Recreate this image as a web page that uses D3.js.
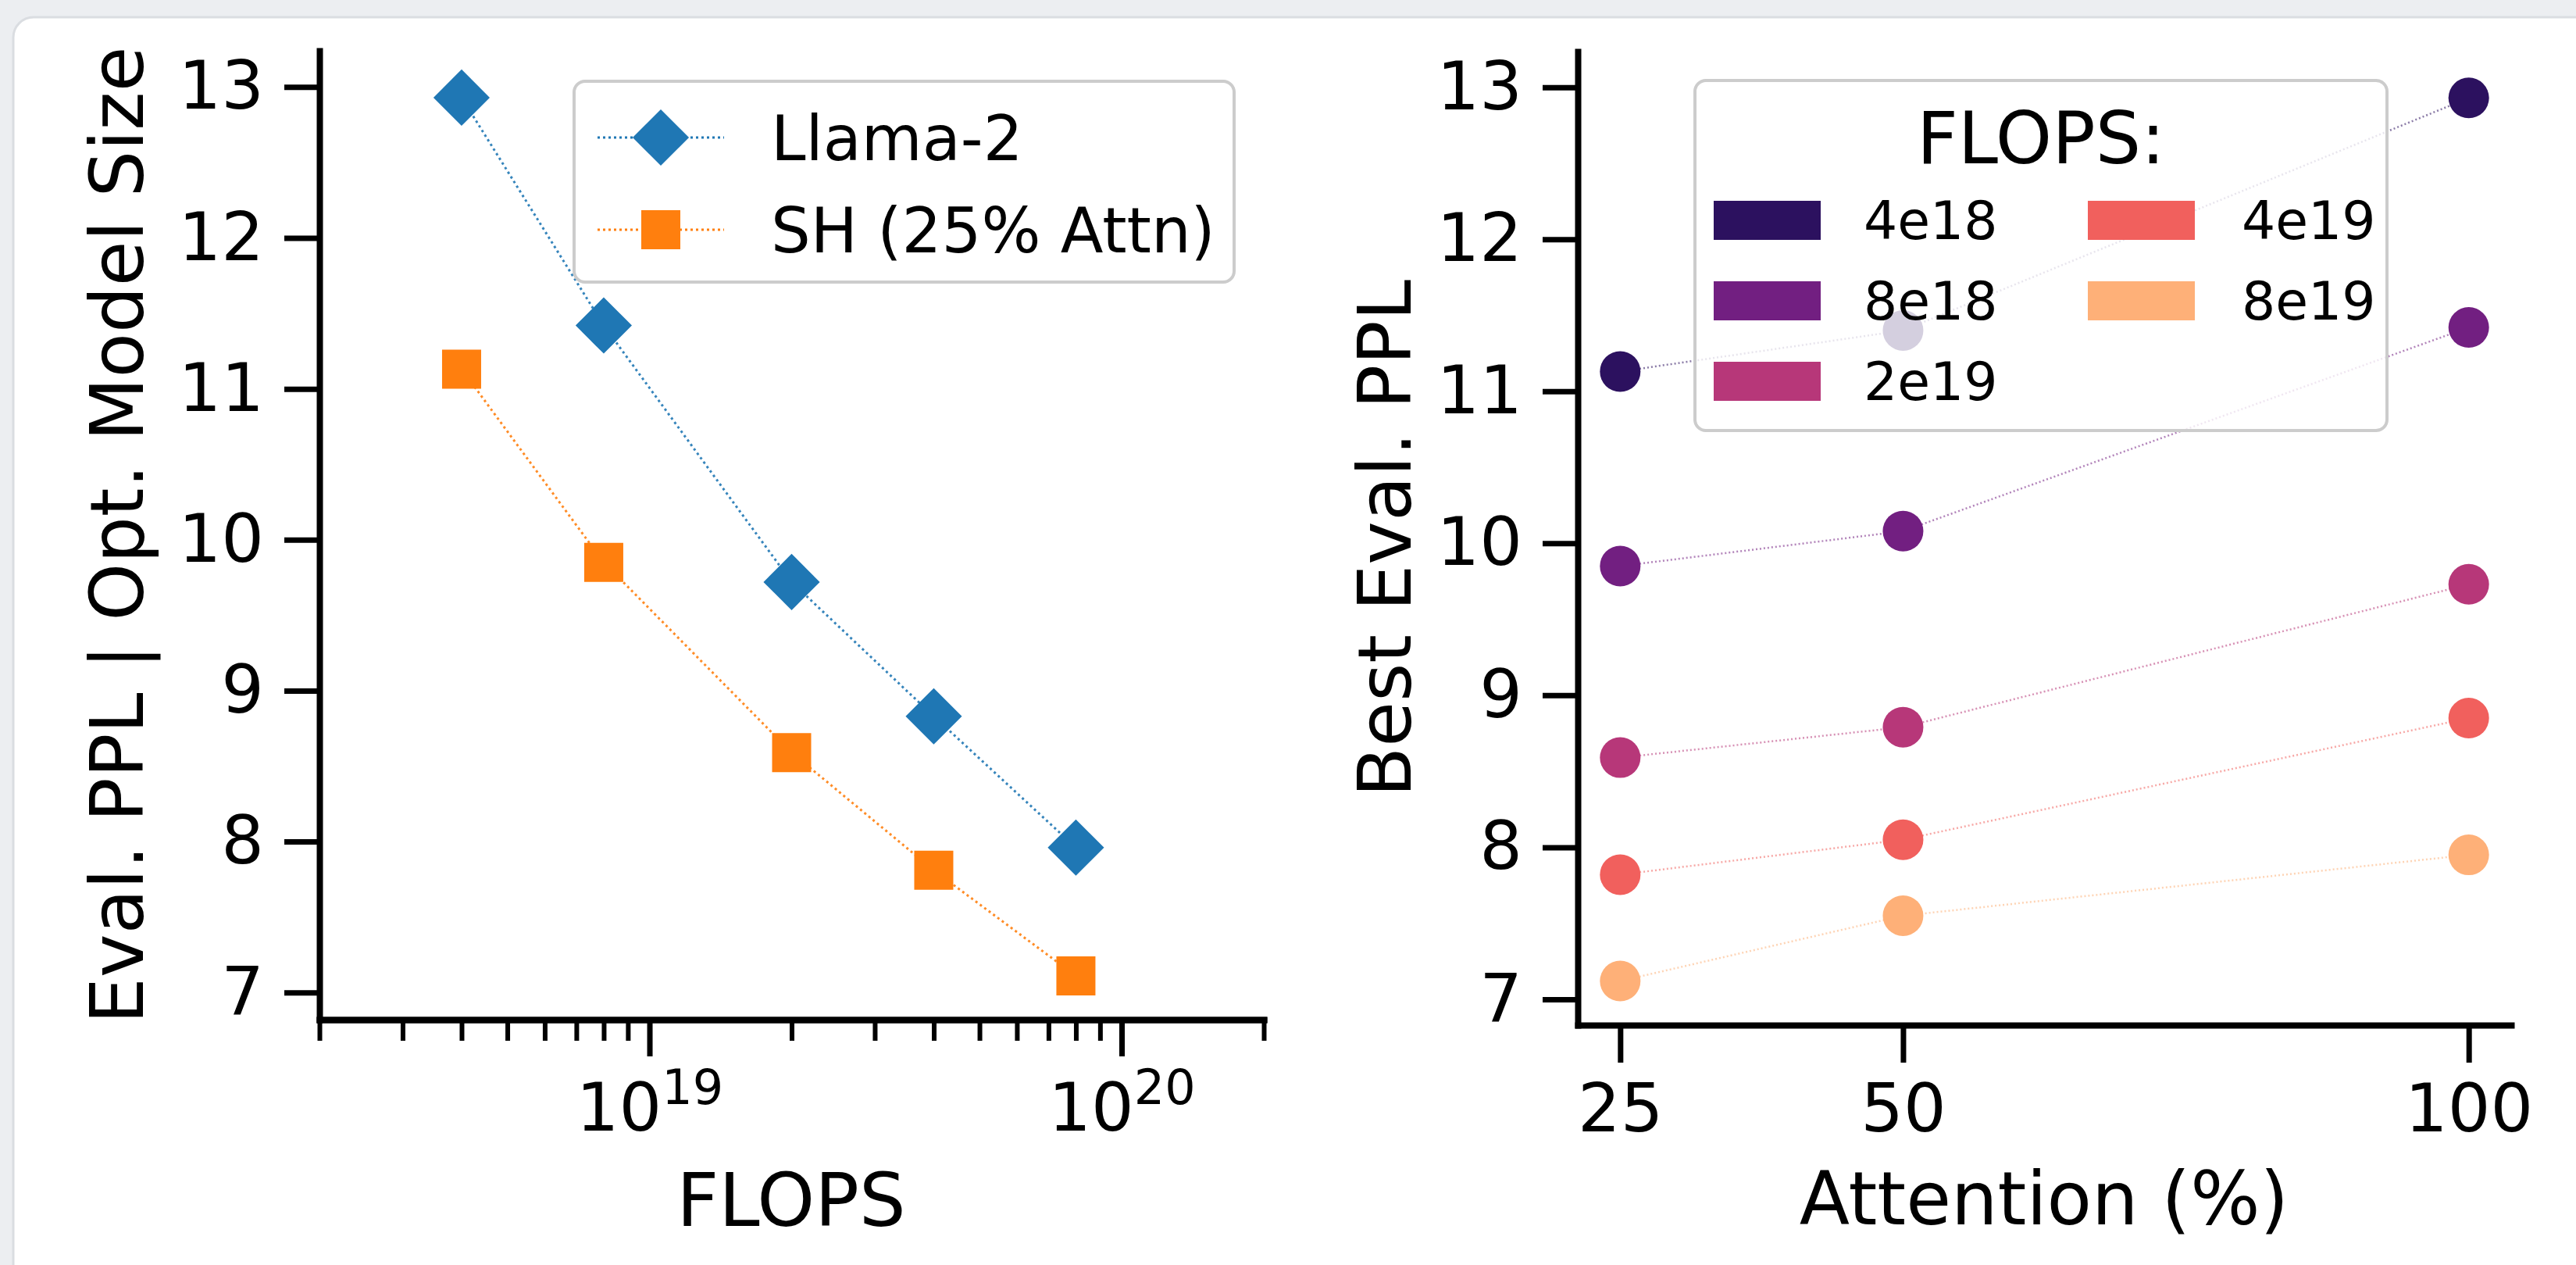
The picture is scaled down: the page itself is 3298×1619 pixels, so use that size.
<!DOCTYPE html>
<meta charset="utf-8">
<script src="https://d3js.org/d3.v7.min.js"></script>
<style>
  body { margin: 0; background: #eceef1; }
  text { font-family: "DejaVu Sans", sans-serif; fill: #000; }
</style>
<div id="chart"></div>
<script>
    // ---- data ----
    var flopsBudgets = [4e18, 8e18, 2e19, 4e19, 8e19];
    var flopsLabels = ["4e18", "8e18", "2e19", "4e19", "8e19"];
    var llamaPPL = [12.93, 11.42, 9.72, 8.83, 7.96];
    var shPPL = [11.13, 9.85, 8.59, 7.81, 7.11];

    var attnPct = [25, 50, 100];
    var ppl4e18 = [11.13, 11.40, 12.93];
    var ppl8e18 = [9.85, 10.08, 11.42];
    var ppl2e19 = [8.59, 8.79, 9.73];
    var ppl4e19 = [7.82, 8.05, 8.85];
    var ppl8e19 = [7.12, 7.55, 7.95];

    var yTicks = [7, 8, 9, 10, 11, 12, 13];
    var logMajorTicks = [1e19, 1e20];
    var attnTicks = [25, 50, 100];

    var magmaColors = ["#2c115f", "#721f81", "#b73779", "#f1605d", "#feb078"];
    var llamaColor = "#1f77b4", shColor = "#ff7f0e";

    var W = 3298, H = 1619;
    var svg = d3.select("#chart").append("svg")
        .attr("width", W).attr("height", H);

    // page card
    svg.append("rect").attr("x", 17).attr("y", 22)
        .attr("width", W + 40).attr("height", H + 40).attr("rx", 26)
        .attr("fill", "#fff").attr("stroke", "#dadde1").attr("stroke-width", 3);

    var tickFont = 86, labelFont = 94;
    var intFmt = d3.format("d");

    function styleAxis(g, tickW) {
      g.select(".domain").attr("stroke", "#000").attr("stroke-width", 8).attr("stroke-linecap", "square");
      g.selectAll(".tick line").attr("stroke", "#000").attr("stroke-width", tickW || 7);
      g.selectAll("text").attr("font-size", tickFont).attr("font-family", "DejaVu Sans").attr("fill", "#000");
    }

    // =============== LEFT PANEL ===============
    var xL = d3.scaleLog().domain([2e18, 2e20]).range([409, 1618]);
    var yL = d3.scaleLinear().domain([6.82, 13.24]).range([1305, 65]);

    // minor ticks
    var minorTicks = xL.ticks().filter(function(d) {
      var e = Math.log10(d); return Math.abs(e - Math.round(e)) > 1e-9;
    });
    var gMinor = svg.append("g").attr("transform", "translate(0,1305)")
      .call(d3.axisBottom(xL).tickValues(minorTicks).tickSize(27).tickSizeOuter(0).tickFormat(""));
    styleAxis(gMinor, 6);

    var gxL = svg.append("g").attr("transform", "translate(0,1305)")
      .call(d3.axisBottom(xL).tickValues(logMajorTicks).tickSize(47).tickSizeOuter(0).tickFormat(""));
    styleAxis(gxL);
    gxL.selectAll(".tick").append("text")
      .attr("y", 142).attr("text-anchor", "middle")
      .attr("font-size", tickFont).attr("fill", "#000")
      .each(function(d) {
        var t = d3.select(this);
        t.append("tspan").text("10");
        t.append("tspan").attr("dy", -34).attr("font-size", 62).text(Math.round(Math.log10(d)));
      });

    var gyL = svg.append("g").attr("transform", "translate(409,0)")
      .call(d3.axisLeft(yL).tickValues(yTicks).tickFormat(intFmt).tickSize(45).tickPadding(26).tickSizeOuter(0));
    styleAxis(gyL);

    svg.append("text").attr("x", 1013).attr("y", 1569).attr("text-anchor", "middle")
      .attr("font-size", labelFont).text("FLOPS");
    svg.append("text").attr("transform", "translate(183,685) rotate(-90)")
      .attr("text-anchor", "middle").attr("font-size", labelFont)
      .text("Eval. PPL | Opt. Model Size");

    var leftSeries = [
      {name: "Llama-2", values: llamaPPL, color: llamaColor, shape: "diamond"},
      {name: "SH (25% Attn)", values: shPPL, color: shColor, shape: "square"}
    ];

    var diamond = d3.symbol().type(d3.symbolSquare).size(2600);
    var square = d3.symbol().type(d3.symbolSquare).size(2500);

    var lineL = d3.line()
      .x(function(d) { return xL(d.x); })
      .y(function(d) { return yL(d.y); });

    leftSeries.forEach(function(s) {
      var pts = flopsBudgets.map(function(f, i) { return {x: f, y: s.values[i]}; });
      svg.append("path").datum(pts).attr("d", lineL)
        .attr("fill", "none").attr("stroke", s.color).attr("stroke-width", 3)
        .attr("stroke-dasharray", "3,4").attr("opacity", 0.9);
      svg.selectAll(null).data(pts).enter().append("path")
        .attr("d", s.shape === "diamond" ? diamond : square)
        .attr("transform", function(d) {
          return "translate(" + xL(d.x) + "," + yL(d.y) + ")" + (s.shape === "diamond" ? " rotate(45)" : "");
        })
        .attr("fill", s.color);
    });

    // legend (left)
    var legL = svg.append("g");
    legL.append("rect").attr("x", 735).attr("y", 104).attr("width", 845).attr("height", 257)
      .attr("rx", 14).attr("fill", "#fff").attr("fill-opacity", 0.8)
      .attr("stroke", "#cccccc").attr("stroke-width", 4);
    leftSeries.forEach(function(s, i) {
      var yy = 176 + i * 118;
      legL.append("line").attr("x1", 765).attr("x2", 927).attr("y1", yy).attr("y2", yy)
        .attr("stroke", s.color).attr("stroke-width", 3).attr("stroke-dasharray", "3,4");
      legL.append("path").attr("d", s.shape === "diamond" ? diamond : square)
        .attr("transform", "translate(846," + yy + ")" + (s.shape === "diamond" ? " rotate(45)" : ""))
        .attr("fill", s.color);
      legL.append("text").attr("x", 987).attr("y", yy).attr("dy", "0.36em")
        .attr("font-size", 80).text(s.name);
    });

    // =============== RIGHT PANEL ===============
    var xR = d3.scaleLinear().domain([21.25, 103.75]).range([2020, 3215]);
    var yR = d3.scaleLinear().domain([6.83, 13.235]).range([1312, 66]);

    var gxR = svg.append("g").attr("transform", "translate(0,1312)")
      .call(d3.axisBottom(xR).tickValues(attnTicks).tickFormat(intFmt).tickSize(48).tickPadding(27).tickSizeOuter(0));
    styleAxis(gxR);
    var gyR = svg.append("g").attr("transform", "translate(2020,0)")
      .call(d3.axisLeft(yR).tickValues(yTicks).tickFormat(intFmt).tickSize(45).tickPadding(26).tickSizeOuter(0));
    styleAxis(gyR);

    svg.append("text").attr("x", 2617).attr("y", 1567).attr("text-anchor", "middle")
      .attr("font-size", labelFont).text("Attention (%)");
    svg.append("text").attr("transform", "translate(1806,689) rotate(-90)")
      .attr("text-anchor", "middle").attr("font-size", labelFont)
      .text("Best Eval. PPL");

    var rightSeries = [ppl4e18, ppl8e18, ppl2e19, ppl4e19, ppl8e19].map(function(v, i) {
      return {label: flopsLabels[i], color: magmaColors[i],
              points: attnPct.map(function(a, j) { return {x: a, y: v[j]}; })};
    });

    var lineR = d3.line()
      .x(function(d) { return xR(d.x); })
      .y(function(d) { return yR(d.y); });

    rightSeries.forEach(function(s) {
      svg.append("path").datum(s.points).attr("d", lineR)
        .attr("fill", "none").attr("stroke", s.color).attr("stroke-width", 2.5)
        .attr("stroke-dasharray", "2,3").attr("opacity", 0.55);
      svg.selectAll(null).data(s.points).enter().append("circle")
        .attr("cx", function(d) { return xR(d.x); })
        .attr("cy", function(d) { return yR(d.y); })
        .attr("r", 26)
        .attr("fill", s.color);
    });

    // legend (right)
    var legR = svg.append("g");
    legR.append("rect").attr("x", 2170).attr("y", 103).attr("width", 886).attr("height", 448)
      .attr("rx", 14).attr("fill", "#fff").attr("fill-opacity", 0.8)
      .attr("stroke", "#cccccc").attr("stroke-width", 4);
    legR.append("text").attr("x", 2613).attr("y", 176).attr("dy", "0.36em")
      .attr("text-anchor", "middle").attr("font-size", 92).text("FLOPS:");
    rightSeries.forEach(function(s, i) {
      var col = i < 3 ? 0 : 1, row = i < 3 ? i : i - 3;
      var px = col === 0 ? 2194 : 2673, tx = col === 0 ? 2386 : 2870;
      var yy = 282 + row * 103;
      legR.append("rect").attr("x", px).attr("y", yy - 25).attr("width", 137).attr("height", 50)
        .attr("fill", s.color);
      legR.append("text").attr("x", tx).attr("y", yy).attr("dy", "0.36em")
        .attr("font-size", 68).text(s.label);
    });
</script>
